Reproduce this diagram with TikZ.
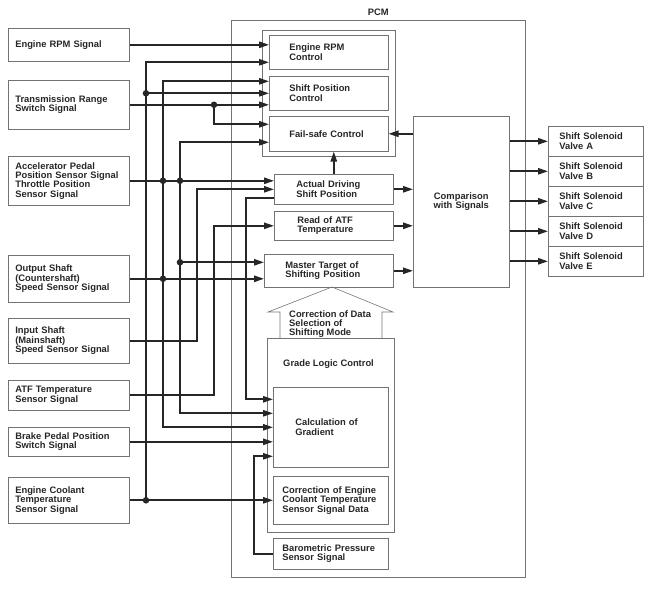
\documentclass[tikz,border=0pt]{standalone}
\usepackage{fontspec}
\setmainfont{Liberation Sans}
\usetikzlibrary{arrows.meta}

\begin{document}
\begin{tikzpicture}[x=0.3mm,y=-0.3mm,
        frame/.style={draw=black!55, line width=0.5pt},
        box/.style={frame, anchor=north west, align=left, inner ysep=0pt,
            font=\fontsize{8}{8}\selectfont\bfseries, text=black!85},
        inbox/.style={box, text width=32.1mm, inner xsep=2.1mm},
        lbl/.style={font=\fontsize{8}{8}\selectfont\bfseries, text=black!85, inner sep=0pt, align=left},
        sig/.style={draw=black!85, line width=1.4pt, -{Triangle[length=3mm,width=1.9mm]}},
        dot/.style={fill=black!85}]
    \useasboundingbox (0,0) rectangle (657,595);

    \node[inbox, minimum height=9.9mm] (rpm) at (8,28) {Engine RPM Signal};
    \node[inbox, minimum height=14.7mm] (trs) at (8,80) {Transmission Range\\Switch Signal};
    \node[inbox, minimum height=14.7mm] (app) at (8,156) {Accelerator Pedal\\Position Sensor Signal\\Throttle Position\\Sensor Signal};
    \node[inbox, minimum height=14.1mm] (oss) at (8,255) {Output Shaft\\(Countershaft)\\Speed Sensor Signal};
    \node[inbox, minimum height=13.5mm] (iss) at (8,318) {Input Shaft\\(Mainshaft)\\Speed Sensor Signal};
    \node[inbox, minimum height=9mm] (atf) at (8,380) {ATF Temperature\\Sensor Signal};
    \node[inbox, minimum height=8.7mm] (bps) at (8,427) {Brake Pedal Position\\Switch Signal};
    \node[inbox, minimum height=13.8mm] (ect) at (8,477) {Engine Coolant\\Temperature\\Sensor Signal};

    \node[frame, anchor=north west, minimum width=88.2mm, minimum height=167.1mm,
        label={[lbl, yshift=1.2mm]above:PCM}] (pcm) at (231,20) {};
    \node[frame, anchor=north west, minimum width=39.9mm, minimum height=37.8mm] (ctl) at (262,30) {};
    \node[box, text width=23.7mm, inner xsep=6mm, minimum height=10.2mm] (rpmc) at (269,35) {Engine RPM\\Control};
    \node[box, text width=23.7mm, inner xsep=6mm, minimum height=10.2mm] (spc) at (269,76) {Shift Position\\Control};
    \node[box, text width=23.7mm, inner xsep=6mm, minimum height=10.5mm] (fsc) at (269,116) {Fail-safe Control};
    \node[box, text width=22.5mm, inner xsep=6.6mm, minimum height=9mm] (ad) at (274,174) {Actual Driving\\Shift Position};
    \node[box, text width=21.9mm, inner xsep=6.9mm, minimum height=8.7mm] (rat) at (274,211) {Read of ATF\\Temperature};
    \node[box, text width=26.1mm, inner xsep=6.3mm, minimum height=9.9mm] (mts) at (264,254) {Master Target of\\Shifting Position};
    \node[frame, anchor=north west, minimum width=38.1mm, minimum height=58.2mm] (grade) at (267,338) {};
    \node[lbl, anchor=west] (gradelbl) at (283,364) {Grade Logic Control};
    \node[box, text width=21.3mm, inner xsep=6.6mm, minimum height=24mm] (calc) at (273,387) {Calculation of\\Gradient};
    \node[box, text width=29.1mm, inner xsep=2.7mm, minimum height=14.4mm] (cor) at (273,476) {Correction of Engine\\Coolant Temperature\\Sensor Signal Data};
    \node[box, text width=29.1mm, inner xsep=2.7mm, minimum height=9.3mm] (baro) at (273,538) {Barometric Pressure\\Sensor Signal};
    \node[box, align=center, text width=24.8mm, inner xsep=2mm, minimum height=51.3mm] (cmp) at (413,116) {Comparison\\with Signals};
    \foreach \v [count=\i from 0] in {A,B,C,D,E}
        \node[box, text width=21.9mm, inner xsep=3.3mm, minimum height=9mm] (sv\v) at (548,126+30*\i) {Shift Solenoid\\Valve \v};

    \draw[frame] (280,338) -- (280,312) -- (268,312) -- (332,287) -- (393,312) -- (382,312) -- (382,338);
    \node[lbl, anchor=north west] (cordata) at (289,310) {Correction of Data\\Selection of\\Shifting Mode};

    \coordinate (bA) at (146,0);
    \coordinate (bB) at (163,0);
    \coordinate (bC) at (180,0);
    \coordinate (bD) at (197,0);
    \coordinate (bE) at (214,0);
    \coordinate (bF) at (246,0);
    \coordinate (bG) at (254,0);
    \coordinate (rpmcin) at ([yshift=-3mm]rpmc.west);
    \coordinate (spcin) at ([yshift=3.6mm]spc.west);
    \coordinate (fscin1) at ([yshift=2.85mm]fsc.west);
    \coordinate (fscin2) at ([yshift=-2.55mm]fsc.west);
    \coordinate (adout) at ([yshift=-2.7mm]ad.west);
    \coordinate (mtsin) at ([yshift=2.55mm]mts.west);
    \coordinate (calcin1) at ([yshift=8.4mm]calc.west);
    \coordinate (calcin2) at ([yshift=4.2mm]calc.west);
    \coordinate (calcin5) at ([yshift=-8.7mm]calc.west);

    \draw[sig] (rpm.east) -- (rpm.east -| rpmc.west);
    \draw[sig] (trs.east) -- (trs.east -| spc.west);
    \draw[sig] (trs.east -| bE) |- (fscin1);
    \draw[sig] (app.east) -- (app.east -| ad.west);
    \draw[sig] (oss.east) -- (oss.east -| mts.west);
    \draw[sig] (iss.east) -- (iss.east -| bD) |- (ad.west);
    \draw[sig] (atf.east) -- (atf.east -| bE) |- (rat.west);
    \draw[sig] (bps.east) -- (bps.east -| calc.west);
    \draw[sig] (ect.east) -- (ect.east -| cor.west);
    \draw[sig] (ect.east -| bA) |- (rpmcin);
    \draw[sig] (bA |- spc.west) -- (spc.west);
    \draw[sig] (app.east -| bB) |- (spcin);
    \draw[sig] (app.east -| bB) |- (calc.west);
    \draw[sig] (app.east -| bC) |- (fscin2);
    \draw[sig] (app.east -| bC) |- (calcin2);
    \draw[sig] (mtsin -| bC) -- (mtsin);
    \draw[sig] (adout) -- (adout -| bF) |- (calcin1);
    \draw[sig] (baro.west) -- (baro.west -| bG) |- (calcin5);

    \fill[dot] (bA |- spc.west) circle (2.8pt);
    \fill[dot] (ect.east -| bA) circle (2.8pt);
    \fill[dot] (app.east -| bB) circle (2.8pt);
    \fill[dot] (app.east -| bC) circle (2.8pt);
    \fill[dot] (oss.east -| bB) circle (2.8pt);
    \fill[dot] (mtsin -| bC) circle (2.8pt);
    \fill[dot] (trs.east -| bE) circle (2.8pt);

    \draw[sig] (ad.north) -- (ad.north |- fsc.south);
    \draw[sig] (cmp.west |- fsc.east) -- (fsc.east);
    \draw[sig] (ad.east) -- (ad.east -| cmp.west);
    \draw[sig] (rat.east) -- (rat.east -| cmp.west);
    \draw[sig] (mts.east) -- (mts.east -| cmp.west);
    \foreach \v in {A,B,C,D,E}
        \draw[sig] (cmp.east |- sv\v.west) -- (sv\v.west);
\end{tikzpicture}
\end{document}
